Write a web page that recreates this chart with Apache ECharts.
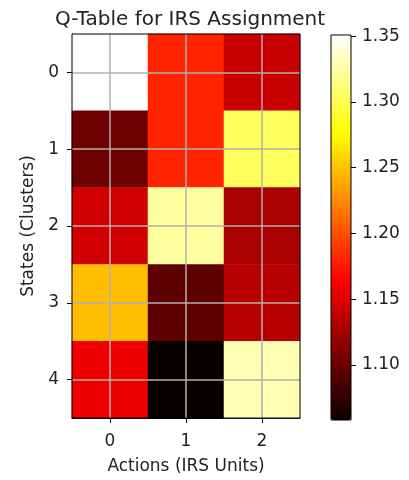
<!DOCTYPE html>
<html>
<head>
<meta charset="utf-8">
<script src="https://cdn.jsdelivr.net/npm/echarts@6/dist/echarts.min.js"></script>
<style>html,body{margin:0;padding:0;background:#fff}#c{width:409px;height:480px}</style>
</head>
<body>
<div id="c"></div>
<script>
var actions = ['0', '1', '2'];
var states = ['0', '1', '2', '3', '4'];
// Q values: rows = states, columns = actions
var q0 = [1.351, 1.180, 1.142];
var q1 = [1.101, 1.180, 1.303];
var q2 = [1.145, 1.323, 1.128];
var q3 = [1.248, 1.095, 1.134];
var q4 = [1.158, 1.058, 1.329];
var colorbarTicks = [1.10, 1.15, 1.20, 1.25, 1.30, 1.35];
var vMin = 1.058, vMax = 1.351;

var rows = [q0, q1, q2, q3, q4];
var data = [];
rows.forEach(function (r, i) { r.forEach(function (v, j) { data.push([j, i, v]); }); });

// matplotlib 'hot' colormap stops
function hot(t) {
  function seg(t, a, b, v0, v1) { if (t <= a) return v0; if (t >= b) return v1; return v0 + (v1 - v0) * (t - a) / (b - a); }
  var r = seg(t, 0, 0.365079, 0.0416, 1), g = seg(t, 0.365079, 0.746032, 0, 1), b = seg(t, 0.746032, 1, 0, 1);
  return 'rgb(' + Math.round(r * 255) + ',' + Math.round(g * 255) + ',' + Math.round(b * 255) + ')';
}
var hotColors = [];
for (var k = 0; k <= 60; k++) hotColors.push(hot(k / 60));

var font = 'DejaVu Sans';
var txt = '#222';
var gridLines = [];
actions.forEach(function (a) { gridLines.push({ xAxis: a }); });
states.forEach(function (s) { gridLines.push({ yAxis: s }); });

var chart = echarts.init(document.getElementById('c'));
chart.setOption({
  animation: false,
  textStyle: { fontFamily: font },
  title: { text: 'Q-Table for IRS Assignment', left: 185, top: 5, textAlign: 'center',
    textStyle: { fontFamily: font, fontSize: 20, fontWeight: 'normal', color: txt } },
  grid: [
    { left: 72, top: 34, width: 228, height: 386, show: true, borderColor: '#000', borderWidth: 1, backgroundColor: 'transparent', z: 10 },
    { left: 331, top: 35, width: 20, height: 385, show: true, borderColor: '#000', borderWidth: 1, backgroundColor: 'transparent', z: 10 }
  ],
  xAxis: [
    { type: 'category', data: actions, gridIndex: 0, position: 'bottom',
      name: 'Actions (IRS Units)', nameLocation: 'middle', nameGap: 40,
      nameTextStyle: { fontFamily: font, fontSize: 17, color: txt },
      axisLine: { show: true, lineStyle: { color: '#000', width: 1 } },
      axisTick: { show: true, alignWithLabel: true, length: 5, lineStyle: { color: '#000' } },
      axisLabel: { fontFamily: font, fontSize: 17, color: txt, margin: 15 },
      splitLine: { show: false } },
    { type: 'category', data: [''], gridIndex: 1, show: false }
  ],
  yAxis: [
    { type: 'category', data: states, gridIndex: 0, inverse: true,
      name: 'States (Clusters)', nameLocation: 'middle', nameGap: 29,
      nameTextStyle: { fontFamily: font, fontSize: 17, color: txt },
      axisLine: { show: true, lineStyle: { color: '#000', width: 1 } },
      axisTick: { show: true, alignWithLabel: true, length: 5, lineStyle: { color: '#000' } },
      axisLabel: { fontFamily: font, fontSize: 17, color: txt, margin: 13 },
      splitLine: { show: false } },
    { type: 'value', gridIndex: 1, min: vMin, max: vMax, position: 'right',
      axisLine: { show: false },
      axisTick: { show: true, length: 5, customValues: colorbarTicks, lineStyle: { color: '#000' } },
      axisLabel: { fontFamily: font, fontSize: 17, color: txt, margin: 11, customValues: colorbarTicks,
        formatter: function (v) { return v.toFixed(2); } },
      splitLine: { show: false } }
  ],
  visualMap: {
    type: 'continuous', min: vMin, max: vMax, seriesIndex: 0, calculable: false,
    orient: 'vertical', left: 331, top: 35, itemWidth: 20, itemHeight: 385, padding: 0,
    text: null, showLabel: false, hoverLink: false,
    inRange: { color: hotColors }
  },
  series: [{
    type: 'heatmap', xAxisIndex: 0, yAxisIndex: 0, data: data,
    itemStyle: { borderWidth: 0 },
    emphasis: { disabled: true },
    markLine: { silent: true, symbol: ['none', 'none'], label: { show: false },
      lineStyle: { color: '#b0b0b0', width: 1.5, type: 'solid' }, data: gridLines }
  }]
});
</script>
</body>
</html>
